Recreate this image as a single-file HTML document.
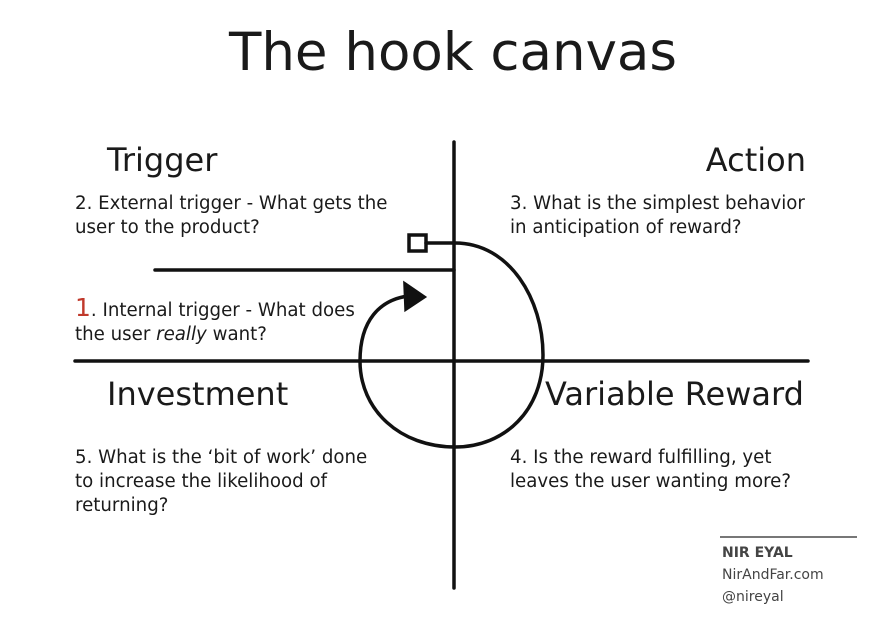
<!DOCTYPE html>
<html><head><style>
body{margin:0;width:870px;height:623px;background:#fff;position:relative;overflow:hidden;font-family:"DejaVu Sans","Liberation Sans",sans-serif;color:#1a1a1a}
.t{position:absolute;white-space:nowrap}
.h{font-size:32px}
.b{font-size:18.2px;line-height:24px}
</style></head><body>
<div class="t" style="left:0;width:906px;text-align:center;top:22px;font-size:53px;">The hook canvas</div>
<div class="t h" style="left:107px;top:141px">Trigger</div>
<div class="t h" style="right:64px;top:141px">Action</div>
<div class="t h" style="left:107px;top:375px">Investment</div>
<div class="t h" style="left:545px;top:375px">Variable Reward</div>
<div class="t b" style="left:75px;top:192px">2. External trigger - What gets the<br>user to the product?</div>
<div class="t b" style="left:75px;top:296px"><span style="color:#c0392b;font-size:25px">1</span>. Internal trigger - What does<br>the user <i>really</i> want?</div>
<div class="t b" style="left:510px;top:192px">3. What is the simplest behavior<br>in anticipation of reward?</div>
<div class="t b" style="left:75px;top:446px">5. What is the ‘bit of work’ done<br>to increase the likelihood of<br>returning?</div>
<div class="t b" style="left:510px;top:446px">4. Is the reward fulfilling, yet<br>leaves the user wanting more?</div>
<div style="position:absolute;left:720px;top:536px;width:137px;height:2px;background:#777"></div>
<div class="t" style="left:722px;top:542px;font-size:14px;line-height:22px;color:#444"><b>NIR EYAL</b><br>NirAndFar.com<br>@nireyal</div>
<svg width="870" height="623" style="position:absolute;left:0;top:0" fill="none" stroke="#111" stroke-width="3.5" stroke-linecap="round">
<line x1="454" y1="142" x2="454" y2="588"/>
<line x1="75" y1="361" x2="808" y2="361"/>
<line x1="155" y1="270" x2="454" y2="270"/>
<rect x="409" y="235" width="17" height="16"/>
<path d="M426 243 L455 243 C510 243 543 300 543 355 C543 410 505 447 455 447 C400 447 360 410 360 361 C360 320 380 300 408 296"/>
<path d="M405 284 L424 297 L406 309 Z" fill="#111"/>
</svg>
</body></html>
